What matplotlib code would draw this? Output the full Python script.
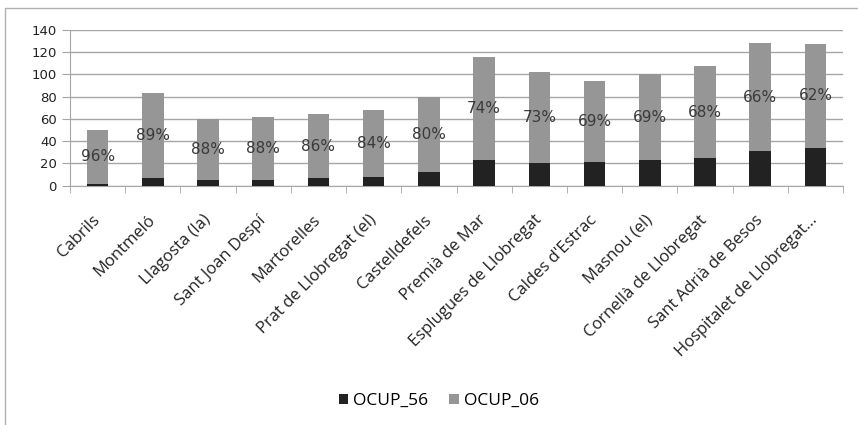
import matplotlib.pyplot as plt
import numpy as np
from matplotlib.patches import Rectangle
from matplotlib.transforms import ScaledTranslation

municipis = ["Cabrils", "Montmeló", "Llagosta (la)", "Sant Joan Despí", "Martorelles",
             "Prat de Llobregat (el)", "Castelldefels", "Premià de Mar",
             "Esplugues de Llobregat", "Caldes d'Estrac", "Masnou (el)",
             "Cornellà de Llobregat", "Sant Adrià de Besos", "Hospitalet de Llobregat..."]
ocup_56 = [1.8, 6.6, 5.4, 5.4, 6.6, 8.1, 12.0, 23.1, 20.1, 21.6, 23.1, 24.6, 31.5, 34.2]
ocup_06 = [48.6, 76.5, 54.3, 56.1, 57.6, 60.2, 68.0, 92.9, 82.4, 72.6, 77.3, 83.0, 96.5, 93.0]
pct = ["96%", "89%", "88%", "88%", "86%", "84%", "80%", "74%", "73%", "69%", "69%", "68%", "66%", "62%"]

fig = plt.figure(figsize=(8.58, 4.25), dpi=100)
# chart frame
fig.patches.append(Rectangle((5 / 858, -0.1), 1.1, 1.1 - 8 / 425,
                             transform=fig.transFigure, fill=False,
                             edgecolor="#b0b0b0", linewidth=1))

ax = fig.add_axes([70 / 858, 1 - 185.7 / 425, 773 / 858, 155.7 / 425])
x = np.arange(len(municipis))
b1 = ax.bar(x, ocup_56, width=0.39, color="#222222", label="OCUP_56", zorder=3)
b2 = ax.bar(x, ocup_06, width=0.39, bottom=ocup_56, color="#969696", label="OCUP_06", zorder=3)
ax.bar_label(b2, labels=pct, label_type="center", fontsize=11, color="#3a3a3a", zorder=4)

ax.set_xlim(-0.5, len(municipis) - 0.5)
ax.set_ylim(0, 140)
ax.set_yticks(range(0, 141, 20))
ax.yaxis.grid(True, color="#a6a6a6", linewidth=1, zorder=0)
ax.set_axisbelow(True)

ax.set_xticks(x)
ax.set_xticklabels(municipis, rotation=45, ha="right", va="center", rotation_mode="anchor",
                   fontsize=12, color="#222222", family="Open Sans")
shift = ScaledTranslation(7 / 100, 0, fig.dpi_scale_trans)
for lbl in ax.get_xticklabels():
    lbl.set_transform(lbl.get_transform() + shift)
ax.set_xticks(np.arange(len(municipis) + 1) - 0.5, minor=True)
ax.tick_params(axis="x", which="major", length=0, pad=23)
ax.tick_params(axis="x", which="minor", length=5, color="#a6a6a6")
ax.tick_params(axis="y", length=6, color="#a6a6a6", labelsize=9.5, labelcolor="#222222")

for s in ["top", "right"]:
    ax.spines[s].set_visible(False)
for s in ["left", "bottom"]:
    ax.spines[s].set_color("#a6a6a6")

fig.legend(handles=[b1, b2], loc="center", bbox_to_anchor=(439 / 858, 1 - 401 / 425),
           ncol=2, frameon=False, prop={"family": "Open Sans", "size": 12.5},
           handlelength=0.55, handleheight=0.55, handletextpad=0.3, columnspacing=1.2)

fig.savefig("out.png", dpi=100)
